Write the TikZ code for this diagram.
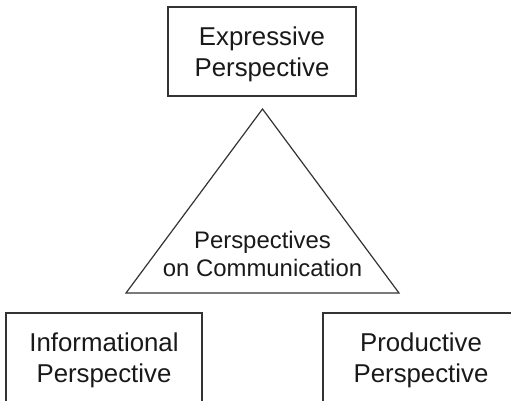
\documentclass[tikz,border=0pt]{standalone}
\usepackage{fontspec}
\setmainfont{Liberation Sans}
\usetikzlibrary{positioning}

\tikzset{
  perspbox/.style={draw=black!80, line width=1.2pt, minimum width=196pt,
    minimum height=89pt, inner sep=0pt, align=center, text=black!90,
    text depth=0pt, font=\fontsize{25.8}{31}\selectfont},
  triline/.style={draw=black!80, line width=1.2pt, line join=miter}
}

\begin{document}
\begin{tikzpicture}[x=1pt, y=-1pt]
\useasboundingbox (0,0) rectangle (511,400);
\clip (0,0) rectangle (511,400);

% Boxes
\node[perspbox, minimum width=188pt] (expr) at (262,51.5) {Expressive\\Perspective};
\node[perspbox] (info) at (104,357.5) {Informational\\Perspective};
\node[perspbox] (prod) at (421,357.5) {Productive\\Perspective};

% Triangle
\coordinate (apex) at (262.5,109);
\coordinate (baseL) at (126,293);
\coordinate (baseR) at (399,293);
\draw[triline] (apex) -- (baseL) -- (baseR) -- cycle;
\node[align=center, inner sep=0pt, text=black!90, text depth=0pt,
  font=\fontsize{23.9}{28}\selectfont] (comm) at (262.5,253.5) {Perspectives\\on Communication};

\end{tikzpicture}
\end{document}
